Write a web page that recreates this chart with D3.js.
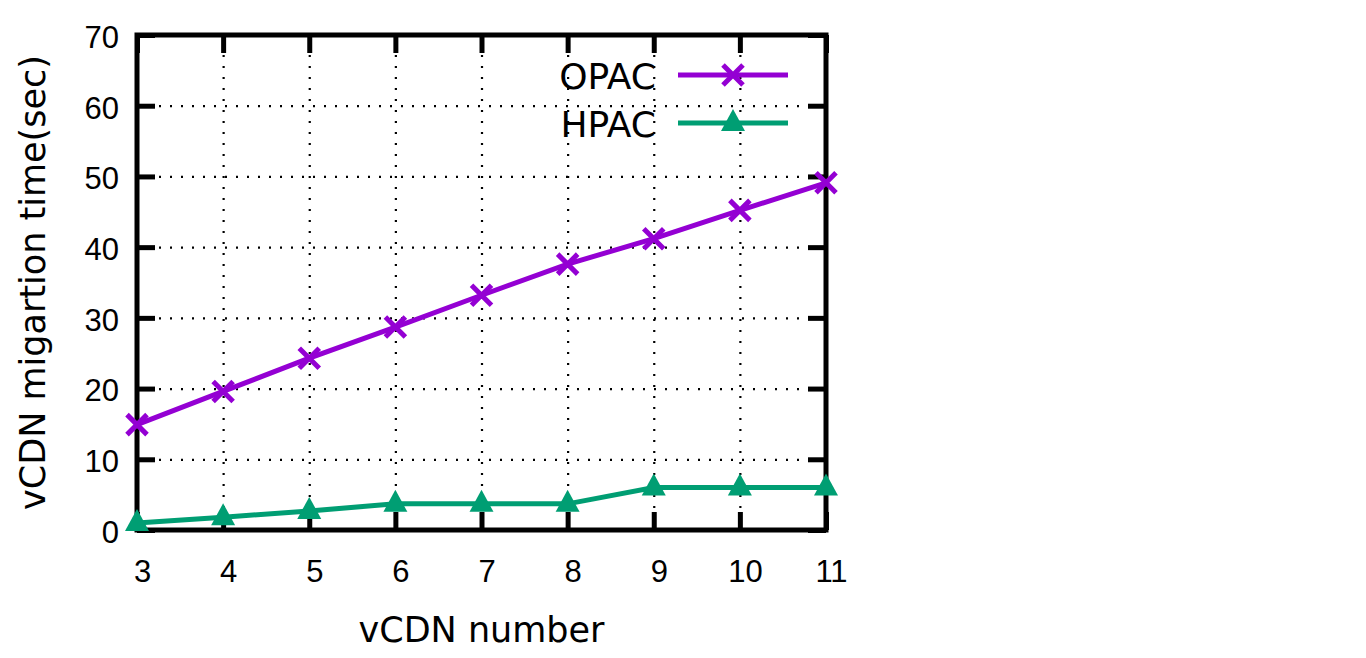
<!DOCTYPE html>
<html>
<head>
<meta charset="utf-8">
<script src="https://cdn.jsdelivr.net/npm/d3@7"></script>
<style>
  body { margin: 0; background: #fff; }
  text { font-family: "DejaVu Sans", sans-serif; fill: #000; }
</style>
</head>
<body>
<script>
// data
var vcdn = [3, 4, 5, 6, 7, 8, 9, 10, 11];
var opac = [14.9, 19.6, 24.3, 28.7, 33.2, 37.6, 41.2, 45.2, 49.1];
var hpac = [1.0, 1.8, 2.7, 3.7, 3.7, 3.7, 6.0, 6.0, 6.0];
var yTicks = [0, 10, 20, 30, 40, 50, 60, 70];
var seriesNames = ["OPAC", "HPAC"];

var width = 1366,
	height = 658;

var margin = {left: 137, right: 540, top: 35, bottom: 128};
var w = width - margin.left - margin.right,
	h = height - margin.top - margin.bottom;

var purple = "#9400d3",
	green = "#009e73";

var svg = d3.select("body").append("svg")
	.attr("width", width)
	.attr("height", height);

var g = svg.append("g")
	.attr("transform", "translate(" + margin.left + "," + margin.top + ")");

var x = d3.scaleLinear().domain([3, 11]).range([0, w]);
var y = d3.scaleLinear().domain([0, 70]).range([h, 0]);

// dotted grid
g.append("g")
	.attr("class", "grid")
	.call(d3.axisLeft(y).tickValues(yTicks.slice(1, -1)).tickSize(-w).tickFormat(""));
g.append("g")
	.attr("class", "grid")
	.attr("transform", "translate(0," + h + ")")
	.call(d3.axisBottom(x).tickValues(vcdn.slice(1, -1)).tickSize(-h).tickFormat(""));
g.selectAll(".grid .domain").remove();
g.selectAll(".grid line")
	.attr("stroke", "#000")
	.attr("stroke-width", 2.2)
	.attr("stroke-dasharray", "2,9");

// axes with inward ticks, mirrored on all sides
var tickLen = 18;
var axes = g.append("g").attr("class", "axes");
var yAxis = axes.append("g")
	.call(d3.axisLeft(y).tickValues(yTicks).tickSize(-tickLen).tickPadding(18));
var xAxis = axes.append("g")
	.attr("transform", "translate(0," + h + ")")
	.call(d3.axisBottom(x).tickValues(vcdn).tickSize(-tickLen).tickPadding(30));
axes.append("g")
	.attr("transform", "translate(" + w + ",0)")
	.call(d3.axisRight(y).tickValues(yTicks).tickSize(-tickLen).tickFormat(""));
axes.append("g")
	.call(d3.axisTop(x).tickValues(vcdn).tickSize(-tickLen).tickFormat(""));

axes.selectAll(".domain").remove();
axes.selectAll(".tick line")
	.attr("stroke", "#000")
	.attr("stroke-width", 5);

yAxis.selectAll("text")
	.style("font-size", "31px")
	.style("font-family", "'Liberation Sans', sans-serif")
	.attr("dy", "0.4em");
xAxis.selectAll("text")
	.style("font-size", "31px")
	.style("font-family", "'Liberation Sans', sans-serif")
	.attr("dx", 5);

// border
g.append("rect")
	.attr("width", w)
	.attr("height", h)
	.attr("fill", "none")
	.attr("stroke", "#000")
	.attr("stroke-width", 5);

// lines
var line = d3.line()
	.x(function(d, i) { return x(vcdn[i]); })
	.y(function(d) { return y(d); });

g.append("path")
	.datum(opac)
	.attr("d", line)
	.attr("fill", "none")
	.attr("stroke", purple)
	.attr("stroke-width", 5);

g.append("path")
	.datum(hpac)
	.attr("d", line)
	.attr("fill", "none")
	.attr("stroke", green)
	.attr("stroke-width", 5);

// markers
var crossPath = "M-10,-10L10,10M-10,10L10,-10";
var triPath = "M0,-14L12,8L-12,8Z";

g.selectAll(".cross")
	.data(opac)
	.enter().append("path")
	.attr("class", "cross")
	.attr("transform", function(d, i) { return "translate(" + x(vcdn[i]) + "," + y(d) + ")"; })
	.attr("d", crossPath)
	.attr("stroke", purple)
	.attr("stroke-width", 5)
	.attr("fill", "none");

g.selectAll(".tri")
	.data(hpac)
	.enter().append("path")
	.attr("class", "tri")
	.attr("transform", function(d, i) { return "translate(" + x(vcdn[i]) + "," + y(d) + ")"; })
	.attr("d", triPath)
	.attr("fill", green);

// legend
var legend = svg.append("g");
var legendRows = [
	{name: seriesNames[0], color: purple, mark: crossPath, fill: "none", y: 75},
	{name: seriesNames[1], color: green, mark: triPath, fill: green, y: 123}
];
legendRows.forEach(function(r) {
	legend.append("text")
		.attr("x", 656)
		.attr("y", r.y + 14)
		.attr("text-anchor", "end")
		.style("font-size", "36px")
		.text(r.name);
	legend.append("line")
		.attr("x1", 678).attr("x2", 788)
		.attr("y1", r.y).attr("y2", r.y)
		.attr("stroke", r.color)
		.attr("stroke-width", 5);
	legend.append("path")
		.attr("transform", "translate(733," + r.y + ")")
		.attr("d", r.mark)
		.attr("fill", r.fill)
		.attr("stroke", r.fill === "none" ? r.color : "none")
		.attr("stroke-width", 5);
});

// axis titles
svg.append("text")
	.attr("x", margin.left + w / 2)
	.attr("y", 642)
	.attr("text-anchor", "middle")
	.style("font-size", "35px")
	.text("vCDN number");

svg.append("text")
	.attr("transform", "translate(45," + (margin.top + h / 2) + ") rotate(-90)")
	.attr("text-anchor", "middle")
	.style("font-size", "35px")
	.text("vCDN migartion time(sec)");
</script>
</body>
</html>
